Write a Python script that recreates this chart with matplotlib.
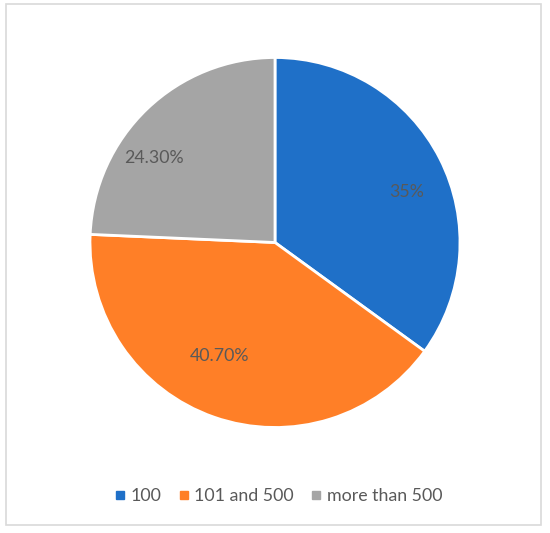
import matplotlib
matplotlib.use("Agg")
import matplotlib.pyplot as plt
from matplotlib.patches import Rectangle
from matplotlib.lines import Line2D
import numpy as np

categories = ["100", "101 and 500", "more than 500"]
values = [35.0, 40.7, 24.3]
value_labels = ["35%", "40.70%", "24.30%"]
colors = ["#1F70C8", "#FF7F27", "#A5A5A5"]

W, H = 550, 533
fig = plt.figure(figsize=(W / 100, H / 100), dpi=100)
fig.patch.set_facecolor("white")

# border
fig.add_artist(Rectangle((6 / W, (H - 525) / H), (541 - 6) / W, (525 - 4) / H,
                         transform=fig.transFigure, fill=False,
                         edgecolor="#D9D9D9", lw=1.2))

cx, cy, r = 275, 242.5, 185
ax = fig.add_axes([(cx - r) / W, (H - cy - r) / H, 2 * r / W, 2 * r / H])
wedges, _ = ax.pie(values, colors=colors, startangle=90, counterclock=False,
                   wedgeprops=dict(edgecolor="white", linewidth=2), radius=1.0)
ax.set_xlim(-1, 1)
ax.set_ylim(-1, 1)
ax.set_aspect("equal")
ax.axis("off")

# label positions (angle in degrees, radius fraction)
label_pos = [(21, 0.76), (244, 0.68), (145, 0.80)]
font = "Lato"
for (ang, rr), lab in zip(label_pos, value_labels):
    a = np.deg2rad(ang)
    ax.text(rr * np.cos(a), rr * np.sin(a), lab, ha="center", va="center",
            fontsize=12.8, color="#595959", family=font)

handles = [Line2D([0], [0], marker="s", color="none", markerfacecolor=c,
                  markeredgecolor=c, markersize=5.5) for c in colors]
fig.legend(handles, categories, loc="center", bbox_to_anchor=(279 / W, (H - 496) / H),
           ncol=3, frameon=False, handlelength=0.5, handletextpad=0.35,
           columnspacing=1.0, prop=dict(family=font, size=12.8),
           labelcolor="#595959")

fig.savefig("out.png", dpi=100)
